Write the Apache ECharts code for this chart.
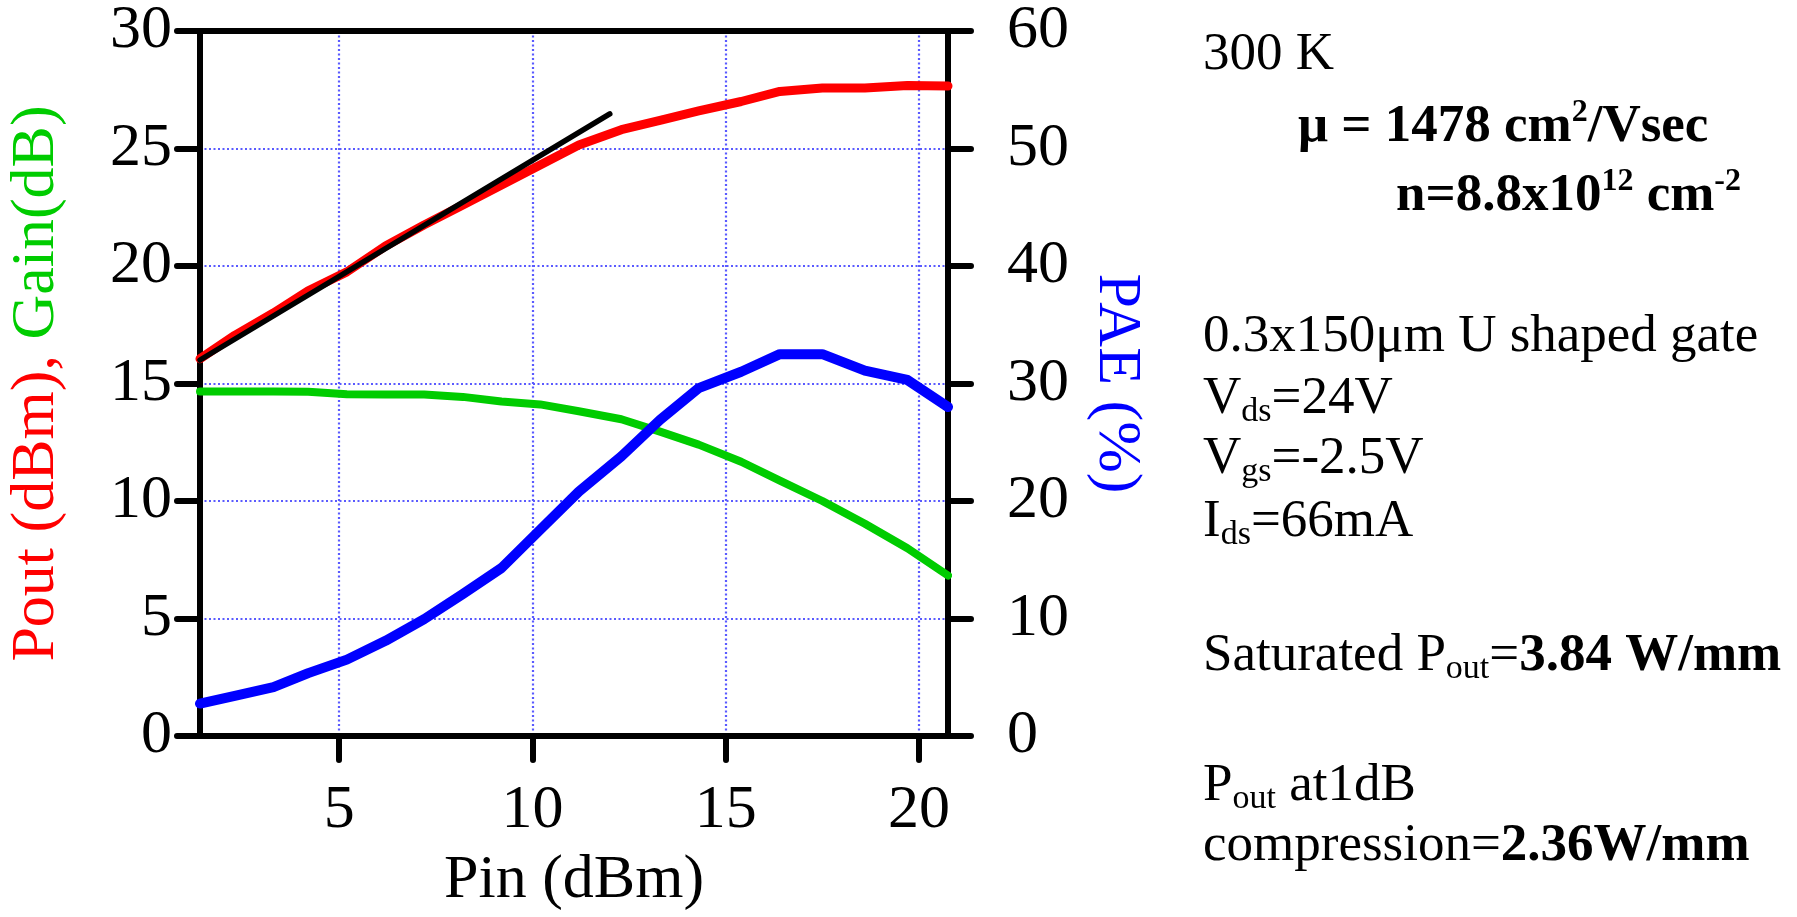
<!DOCTYPE html>
<html>
<head>
<meta charset="utf-8">
<script src="https://cdn.jsdelivr.net/npm/echarts@6/dist/echarts.min.js"></script>
<style>
  html, body { margin: 0; padding: 0; background: #ffffff; }
  #chart { width: 1797px; height: 917px; }
</style>
</head>
<body>
<div id="chart"></div>
<script>
// Input power sweep (dBm) and measured responses
const pin  = [1.4, 2.3, 3.3, 4.2, 5.2, 6.2, 7.2, 8.2, 9.2, 10.2, 11.2, 12.3, 13.3, 14.3, 15.4, 16.4, 17.5, 18.6, 19.7, 20.75];
const pout = [16.05, 17.05, 18.0, 18.95, 19.75, 20.85, 21.75, 22.6, 23.45, 24.3, 25.15, 25.8, 26.2, 26.6, 27.0, 27.43, 27.57, 27.57, 27.68, 27.66];
const gain = [14.66, 14.66, 14.66, 14.65, 14.54, 14.53, 14.53, 14.43, 14.23, 14.11, 13.82, 13.48, 12.95, 12.4, 11.67, 10.87, 10.0, 9.03, 7.99, 6.83];
const pae  = [2.76, 3.42, 4.15, 5.35, 6.5, 8.1, 9.95, 12.09, 14.3, 17.55, 20.8, 23.8, 26.9, 29.6, 31.0, 32.5, 32.5, 31.1, 30.3, 28.0];

// Small-signal (linear gain) reference line
const linePin  = [1.4, 12.0];
const linePout = [16.0, 26.47];

// Axis ticks
const pinTicks = [5, 10, 15, 20];
const leftTicks = { min: 0, max: 30, step: 5 };
const paeTicks  = { min: 0, max: 60, step: 10 };

// Device / measurement notes (rich-text lines)
const notes = [
  '{n|300 K}',
  '{b|\u03bc = 1478 cm}{bp|2}{b|/Vsec}',
  '{b|n=8.8x10}{bp|12}{b| cm}{bp|-2}',
  '{n|0.3x150\u03bcm U shaped gate}',
  '{n|V}{s|ds}{n|=24V}',
  '{n|V}{s|gs}{n|=-2.5V}',
  '{n|I}{s|ds}{n|=66mA}',
  '{n|Saturated P}{s|out}{n|=}{b|3.84 W/mm}',
  '{n|P}{s|out}{n| at1dB}',
  '{n|compression=}{b|2.36W/mm}'
];
const notePos = [
  [1203, 29], [1298, 97], [1396, 166],
  [1203, 311], [1203, 373], [1203, 433], [1203, 496],
  [1203, 630], [1203, 760], [1203, 820]
];

const SERIF = "'Liberation Serif', 'Times New Roman', serif";
const pair = (xs, ys) => xs.map((x, i) => [x, ys[i]]);

const chart = echarts.init(document.getElementById('chart'), null, { renderer: 'canvas' });

const axisLineStyle = { color: '#000', width: 6, cap: 'round' };
const tickStyle = { color: '#000', width: 6, cap: 'round' };
const gridDots = { color: '#5a5aff', width: 2.2, type: [2, 2.5] };

const noteRich = {
  n:  { fontFamily: SERIF, fontSize: 53, color: '#000', lineHeight: 60, verticalAlign: 'middle' },
  b:  { fontFamily: SERIF, fontSize: 53, fontWeight: 'bold', color: '#000', lineHeight: 60, verticalAlign: 'middle' },
  s:  { fontFamily: SERIF, fontSize: 34, color: '#000', lineHeight: 24, verticalAlign: 'bottom' },
  bp: { fontFamily: SERIF, fontSize: 32, fontWeight: 'bold', color: '#000', lineHeight: 44, verticalAlign: 'top' }
};

chart.setOption({
  animation: false,
  backgroundColor: '#ffffff',
  grid: { left: 200, right: 849, top: 31, bottom: 181, containLabel: false },
  xAxis: [
    {
      type: 'value',
      min: 1.4,
      max: 20.75,
      name: 'Pin (dBm)',
      nameLocation: 'middle',
      nameGap: 114,
      nameTextStyle: { fontFamily: SERIF, fontSize: 62, color: '#000' },
      axisLine: { show: true, onZero: false, lineStyle: axisLineStyle },
      axisTick: { show: true, inside: false, length: 24, customValues: pinTicks, lineStyle: tickStyle },
      axisLabel: { show: true, margin: 44, customValues: pinTicks, fontFamily: SERIF, fontSize: 62, color: '#000' },
      splitLine: { show: true, lineStyle: gridDots }
    },
    {
      type: 'value',
      position: 'top',
      min: 1.4,
      max: 20.75,
      axisLine: { show: true, onZero: false, lineStyle: axisLineStyle },
      axisTick: { show: false },
      axisLabel: { show: false },
      splitLine: { show: false }
    }
  ],
  yAxis: [
    {
      type: 'value',
      position: 'left',
      min: leftTicks.min,
      max: leftTicks.max,
      interval: leftTicks.step,
      name: '{r|Pout (dBm), }{g|Gain(dB)}',
      nameLocation: 'middle',
      nameRotate: 90,
      nameGap: 132,
      nameTextStyle: {
        fontFamily: SERIF, fontSize: 62,
        rich: {
          r: { fontFamily: SERIF, fontSize: 62, color: '#ff0000' },
          g: { fontFamily: SERIF, fontSize: 62, color: '#00cc00' }
        }
      },
      axisLine: { show: true, onZero: false, lineStyle: axisLineStyle },
      axisTick: { show: true, inside: false, length: 23, lineStyle: tickStyle },
      axisLabel: { margin: 28, fontFamily: SERIF, fontSize: 62, color: '#000' },
      splitLine: { show: true, showMinLine: false, showMaxLine: false, lineStyle: gridDots }
    },
    {
      type: 'value',
      position: 'right',
      min: paeTicks.min,
      max: paeTicks.max,
      interval: paeTicks.step,
      name: 'PAE (%)',
      nameLocation: 'middle',
      nameRotate: -90,
      nameGap: 137,
      nameTextStyle: { fontFamily: SERIF, fontSize: 62, color: '#0000ff' },
      axisLine: { show: true, onZero: false, lineStyle: axisLineStyle },
      axisTick: { show: true, inside: false, length: 23, lineStyle: tickStyle },
      axisLabel: { margin: 59, fontFamily: SERIF, fontSize: 62, color: '#000' },
      splitLine: { show: false }
    }
  ],
  series: [
    {
      name: 'Gain',
      type: 'line',
      xAxisIndex: 0, yAxisIndex: 0,
      data: pair(pin, gain),
      symbol: 'none',
      clip: false,
      lineStyle: { color: '#00cc00', width: 8, cap: 'round', join: 'round' }
    },
    {
      name: 'PAE',
      type: 'line',
      xAxisIndex: 0, yAxisIndex: 1,
      data: pair(pin, pae),
      symbol: 'none',
      clip: false,
      lineStyle: { color: '#0000ff', width: 10, cap: 'round', join: 'round' }
    },
    {
      name: 'Pout',
      type: 'line',
      xAxisIndex: 0, yAxisIndex: 0,
      data: pair(pin, pout),
      symbol: 'none',
      clip: false,
      lineStyle: { color: '#ff0000', width: 9, cap: 'round', join: 'round' }
    },
    {
      name: 'Linear',
      type: 'line',
      xAxisIndex: 0, yAxisIndex: 0,
      data: pair(linePin, linePout),
      symbol: 'none',
      clip: false,
      lineStyle: { color: '#000000', width: 5.5, cap: 'round', join: 'round' }
    }
  ],
  graphic: notes.map((t, i) => ({
    type: 'text',
    left: notePos[i][0],
    top: notePos[i][1],
    style: {
      text: t,
      rich: noteRich,
      fill: '#000',
      fontFamily: SERIF,
      fontSize: 53
    }
  }))
});
</script>
</body>
</html>
